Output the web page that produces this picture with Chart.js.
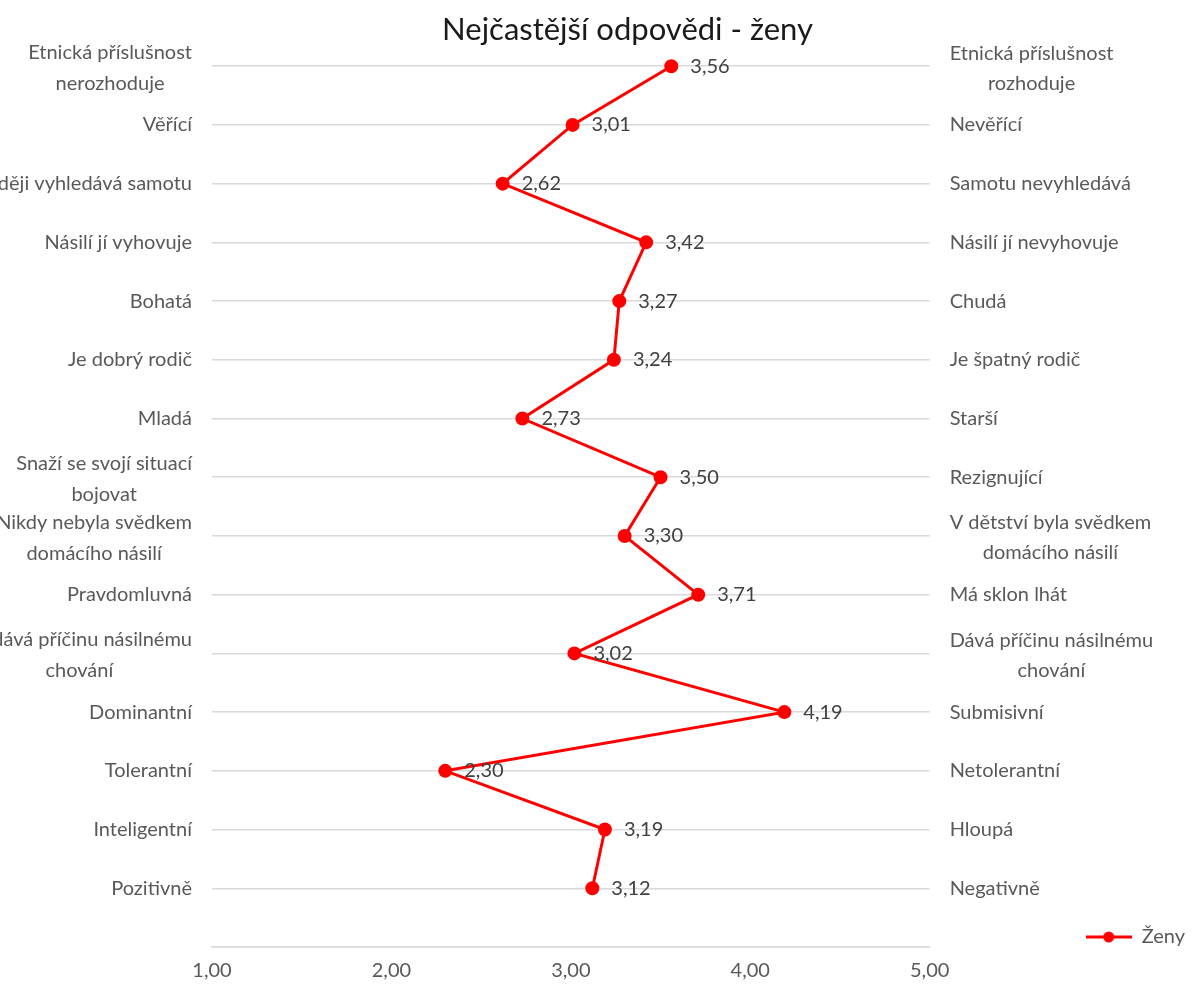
<!DOCTYPE html>
<html lang="cs">
<head>
<meta charset="utf-8">
<title>Nejčastější odpovědi - ženy</title>
<script src="https://cdn.jsdelivr.net/npm/chart.js@4.4.1/dist/chart.umd.min.js"></script>
<style>
  html, body { margin: 0; padding: 0; background: #fff; overflow: hidden; }
  canvas { display: block; }
</style>
</head>
<body>
<canvas id="chart" width="1195" height="994"></canvas>
<script>
// levý a pravý pól škály, shora dolů
const leftLabels = [
    'Etnická příslušnost\nnerozhoduje', 'Věřící', 'Raději vyhledává samotu', 'Násilí jí vyhovuje',
    'Bohatá', 'Je dobrý rodič', 'Mladá', 'Snaží se svojí situací\nbojovat',
    'Nikdy nebyla svědkem\ndomácího násilí', 'Pravdomluvná', 'Nedává příčinu násilnému\nchování',
    'Dominantní', 'Tolerantní', 'Inteligentní', 'Pozitivně'
];
const rightLabels = [
    'Etnická příslušnost\nrozhoduje', 'Nevěřící', 'Samotu nevyhledává', 'Násilí jí nevyhovuje',
    'Chudá', 'Je špatný rodič', 'Starší', 'Rezignující',
    'V dětství byla svědkem\ndomácího násilí', 'Má sklon lhát', 'Dává příčinu násilnému\nchování',
    'Submisivní', 'Netolerantní', 'Hloupá', 'Negativně'
];
const zenyValues = [3.56, 3.01, 2.62, 3.42, 3.27, 3.24, 2.73, 3.50, 3.30, 3.71, 3.02, 4.19, 2.30, 3.19, 3.12];
const xTicks = [1, 2, 3, 4, 5];

const rows = leftLabels.length;
const fmt = v => v.toFixed(2).replace('.', ',');
const FONT = 'Lato';
const RED = '#ff0000';

// legenda: čára s bodem
const legendMark = document.createElement('canvas');
legendMark.width = 46;
legendMark.height = 14;
(() => {
    const c = legendMark.getContext('2d');
    c.strokeStyle = RED;
    c.lineWidth = 3;
    c.beginPath();
    c.moveTo(0, 7);
    c.lineTo(46, 7);
    c.stroke();
    c.fillStyle = RED;
    c.beginPath();
    c.arc(23, 7, 5.5, 0, Math.PI * 2);
    c.fill();
})();

const sideLabels = {
    id: 'sideLabels',
    afterDraw(chart) {
        const {ctx, chartArea, scales} = chart;
        ctx.save();
        ctx.font = '20px ' + FONT;
        ctx.fillStyle = '#595959';
        ctx.textBaseline = 'middle';
        ctx.textAlign = 'center';
        const block = (text, y, edge, side, lh) => {
            const lines = text.split('\n');
            const w = Math.max(...lines.map(l => ctx.measureText(l).width));
            const cx = side === 'left' ? edge - w / 2 : edge + w / 2;
            const dy = lines.length > 1 ? 2 : 0;
            lines.forEach((l, k) => ctx.fillText(l, cx, y + dy + (k - (lines.length - 1) / 2) * lh));
        };
        leftLabels.forEach((t, i) => block(t, scales.y.getPixelForValue(rows - i), chartArea.left - 20, 'left', 31));
        rightLabels.forEach((t, i) => block(t, scales.y2.getPixelForValue(rows - i), chartArea.right + 20, 'right', 30));
        ctx.restore();
    }
};

const valueLabels = {
    id: 'valueLabels',
    afterDatasetsDraw(chart) {
        const {ctx} = chart;
        const meta = chart.getDatasetMeta(0);
        ctx.save();
        ctx.font = '20px ' + FONT;
        ctx.fillStyle = '#404040';
        ctx.textAlign = 'left';
        ctx.textBaseline = 'middle';
        meta.data.forEach((pt, i) => ctx.fillText(fmt(zenyValues[i]), pt.x + 19, pt.y));
        ctx.restore();
    }
};

new Chart(document.getElementById('chart'), {
    type: 'scatter',
    data: {
        datasets: [{
            label: 'Ženy',
            data: zenyValues.map((v, i) => ({x: v, y: rows - i})),
            showLine: true,
            borderColor: RED,
            backgroundColor: RED,
            borderWidth: 3,
            pointRadius: 5.5,
            pointHoverRadius: 5.5,
            tension: 0,
            clip: false
        }]
    },
    options: {
        responsive: false,
        animation: false,
        layout: { padding: { left: 60, right: 0, top: 0, bottom: 0 } },
        scales: {
            x: {
                type: 'linear',
                min: 1,
                max: 5,
                afterBuildTicks: s => { s.ticks = xTicks.map(v => ({value: v})); },
                afterFit: s => { s.height = 47; },
                grid: { display: false, drawTicks: false },
                border: { display: true, color: '#d9d9d9', width: 1.5 },
                ticks: {
                    padding: 12,
                    color: '#595959',
                    font: { family: FONT, size: 20 },
                    callback: v => fmt(v)
                }
            },
            y: {
                type: 'linear',
                position: 'left',
                min: 0,
                max: rows,
                afterFit: s => { s.width = 152; },
                ticks: { display: false, stepSize: 1 },
                grid: { color: '#d9d9d9', lineWidth: 1.5, drawTicks: false },
                border: { display: false }
            },
            y2: {
                type: 'linear',
                position: 'right',
                min: 0,
                max: rows,
                afterFit: s => { s.width = 156; },
                ticks: { display: false },
                grid: { display: false, drawTicks: false },
                border: { display: false }
            }
        },
        plugins: {
            title: {
                display: true,
                text: 'Nejčastější odpovědi - ženy',
                color: '#1a1a1a',
                font: { family: FONT, size: 31, weight: 'normal' },
                padding: { top: 11, bottom: 18 }
            },
            legend: {
                position: 'right',
                align: 'end',
                fullSize: false,
                labels: {
                    usePointStyle: true,
                    pointStyle: legendMark,
                    pointStyleWidth: 46,
                    padding: 0,
                    color: '#595959',
                    font: { family: FONT, size: 20 }
                }
            },
            tooltip: { enabled: false }
        }
    },
    plugins: [sideLabels, valueLabels]
});
</script>
</body>
</html>
